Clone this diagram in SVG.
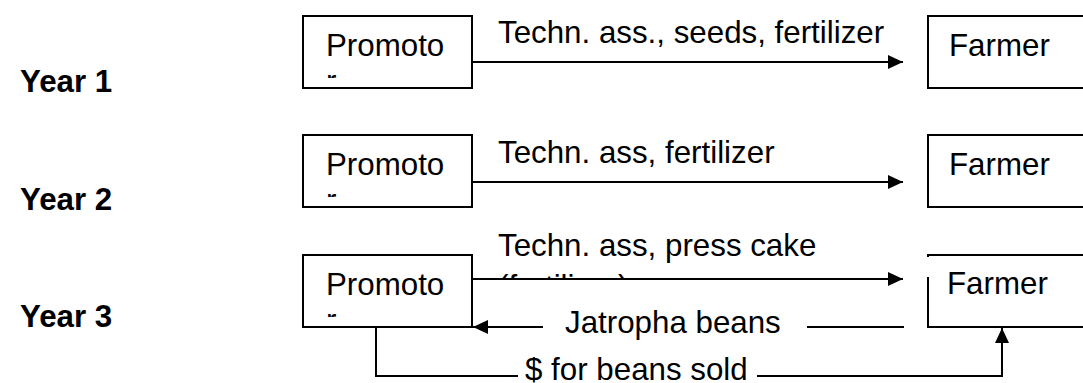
<svg xmlns="http://www.w3.org/2000/svg" width="1083" height="383" viewBox="0 0 1083 383">
<style>
.box{fill:#fff;stroke:#000;stroke-width:2}
.t{font-family:"Liberation Sans",Arial,sans-serif;font-size:31.3px;fill:#000}
.y{font-family:"Liberation Sans",Arial,sans-serif;font-size:31.3px;font-weight:bold;fill:#000}
.ln{fill:none;stroke:#000;stroke-width:2}
</style>
<defs>
<marker id="ah" markerUnits="userSpaceOnUse" markerWidth="16" markerHeight="14" refX="15" refY="7" orient="auto">
<path d="M0,0 L15,7 L0,14 Z" fill="#000"/>
</marker>
<clipPath id="c1"><rect x="300" y="10" width="180" height="68"/></clipPath>
<clipPath id="c2"><rect x="300" y="130" width="180" height="67"/></clipPath>
<clipPath id="c3"><rect x="300" y="250" width="180" height="67"/></clipPath>
<clipPath id="c4"><rect x="480" y="220" width="460" height="60"/></clipPath>
</defs>
<rect width="1083" height="383" fill="#fff"/>
<g id="labels">
<text class="y" x="20" y="92">Year 1</text>
<text class="y" x="20" y="210">Year 2</text>
<text class="y" x="20" y="327">Year 3</text>
</g>
<g id="promoter1">
<rect class="box" x="303" y="16" width="169" height="72"/>
<text class="t" x="326" y="56" clip-path="url(#c1)">Promoto<tspan x="326" y="92">r</tspan></text>
</g>
<g id="farmer1">
<rect class="box" x="928" y="16" width="170" height="72"/>
<text class="t" x="949" y="56">Farmer</text>
</g>
<g id="promoter2">
<rect class="box" x="303" y="135" width="169" height="72"/>
<text class="t" x="326" y="175" clip-path="url(#c2)">Promoto<tspan x="326" y="211">r</tspan></text>
</g>
<g id="farmer2">
<rect class="box" x="928" y="135" width="170" height="72"/>
<text class="t" x="949" y="175">Farmer</text>
</g>
<g id="promoter3">
<rect class="box" x="303" y="255" width="169" height="72"/>
<text class="t" x="326" y="295" clip-path="url(#c3)">Promoto<tspan x="326" y="331">r</tspan></text>
</g>
<g id="farmer3">
<rect class="box" x="928" y="255" width="170" height="72"/>
<rect x="925" y="257" width="5" height="20" fill="#fff"/>
<text class="t" x="947" y="294">Farmer</text>
</g>
<g id="connectors">
<line class="ln" x1="472" y1="62" x2="903" y2="62" marker-end="url(#ah)"/>
<line class="ln" x1="472" y1="182" x2="903" y2="182" marker-end="url(#ah)"/>
<line class="ln" x1="472" y1="279" x2="903" y2="279" marker-end="url(#ah)"/>
<line class="ln" x1="904" y1="327" x2="473" y2="327" marker-end="url(#ah)"/>
<polyline class="ln" points="376,327 376,376 1002,376 1002,328" marker-end="url(#ah)"/>
</g>
<g id="connector-labels">
<text class="t" x="498" y="43">Techn. ass., seeds, fertilizer</text>
<text class="t" x="498" y="163">Techn. ass, fertilizer</text>
<text class="t" x="498" y="256">Techn. ass, press cake</text>
<text class="t" x="498" y="297" clip-path="url(#c4)">(fertilizer)</text>
<rect x="543" y="310" width="264" height="34" fill="#fff"/>
<text class="t" x="565" y="333">Jatropha beans</text>
<rect x="518" y="358" width="239" height="25" fill="#fff"/>
<text class="t" x="525" y="380">$ for beans sold</text>
</g>
</svg>
